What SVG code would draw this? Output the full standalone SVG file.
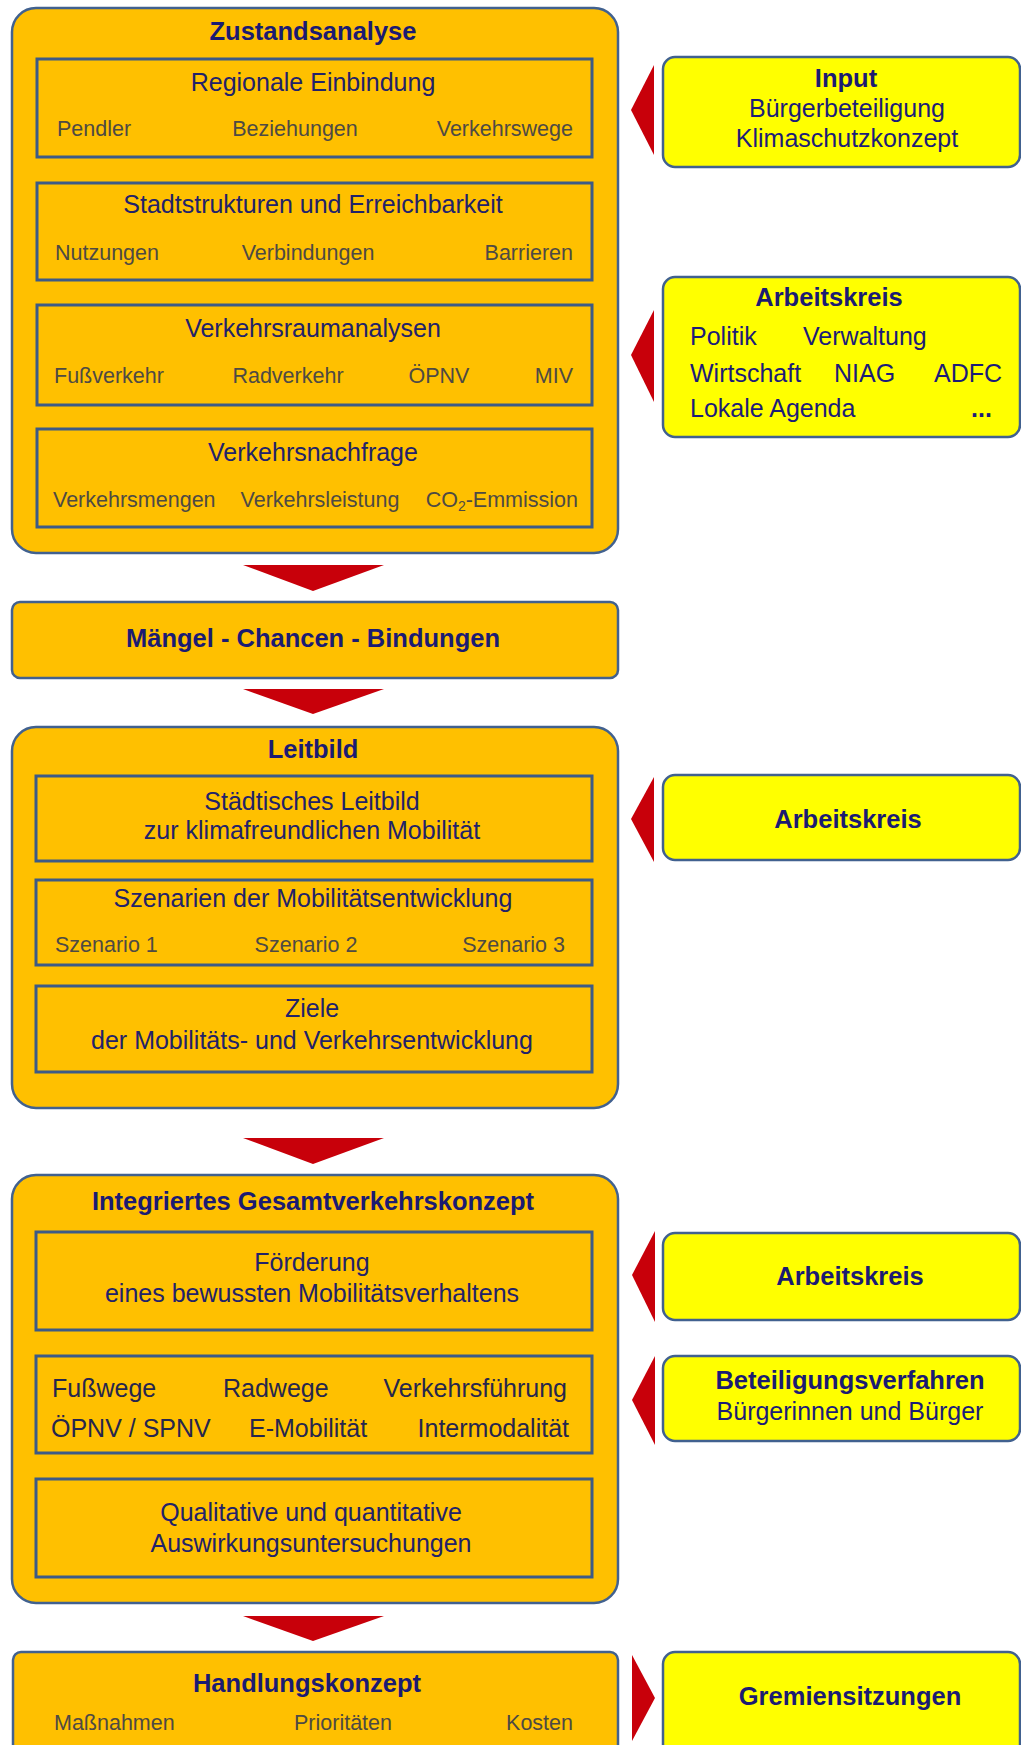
<svg xmlns="http://www.w3.org/2000/svg" width="1021" height="1745" viewBox="0 0 1021 1745">
<style>
  .outer{fill:#FFC000;stroke:#41618F;stroke-width:2.5}
  .inner{fill:none;stroke:#3D5A86;stroke-width:3}
  .side{fill:#FFFF00;stroke:#41618F;stroke-width:2.5}
  .arr{fill:#C8000A}
  text{font-family:"Liberation Sans",Arial,sans-serif}
  .t{font-size:25.5px;font-weight:bold;fill:#1B1B72;text-anchor:middle}
  .s{font-size:25px;fill:#22226A;text-anchor:middle}
  .i{font-size:21.5px;fill:#4E4A44}
  .m{font-size:25px;fill:#26264E}
  .r{font-size:25px;fill:#1C1C78}
  .c{text-anchor:middle}
  .e{text-anchor:end}
</style>
<rect width="1021" height="1745" fill="#FFFFFF"/>

<g id="zustandsanalyse">
  <rect class="outer" x="12" y="8" width="606" height="545" rx="24"/>
  <text class="t" x="313" y="40">Zustandsanalyse</text>
  <rect class="inner" x="37" y="59" width="555" height="98"/>
  <text class="s" x="313" y="91">Regionale Einbindung</text>
  <text class="i" x="57" y="136">Pendler</text>
  <text class="i c" x="295" y="136">Beziehungen</text>
  <text class="i e" x="573" y="136">Verkehrswege</text>
  <rect class="inner" x="37" y="183" width="555" height="97"/>
  <text class="s" x="313" y="213">Stadtstrukturen und Erreichbarkeit</text>
  <text class="i" x="55" y="260">Nutzungen</text>
  <text class="i c" x="308" y="260">Verbindungen</text>
  <text class="i e" x="573" y="260">Barrieren</text>
  <rect class="inner" x="37" y="305" width="555" height="100"/>
  <text class="s" x="313" y="337">Verkehrsraumanalysen</text>
  <text class="i" x="54" y="383">Fußverkehr</text>
  <text class="i c" x="288" y="383">Radverkehr</text>
  <text class="i c" x="439" y="383">ÖPNV</text>
  <text class="i e" x="573" y="383">MIV</text>
  <rect class="inner" x="37" y="429" width="555" height="98"/>
  <text class="s" x="313" y="461">Verkehrsnachfrage</text>
  <text class="i" x="53" y="507">Verkehrsmengen</text>
  <text class="i c" x="320" y="507">Verkehrsleistung</text>
  <text class="i e" x="578" y="507">CO<tspan font-size="14" dy="4">2</tspan><tspan dy="-4">-Emmission</tspan></text>
</g>

<g id="maengel">
  <rect class="outer" x="12" y="602" width="606" height="76" rx="8"/>
  <text class="t" x="313" y="647">Mängel - Chancen - Bindungen</text>
</g>

<g id="leitbild">
  <rect class="outer" x="12" y="727" width="606" height="381" rx="24"/>
  <text class="t" x="313" y="758">Leitbild</text>
  <rect class="inner" x="36" y="776" width="556" height="85"/>
  <text class="s" x="312" y="810">Städtisches Leitbild</text>
  <text class="s" x="312" y="839">zur klimafreundlichen  Mobilität</text>
  <rect class="inner" x="36" y="880" width="556" height="85"/>
  <text class="s" x="313" y="907">Szenarien der Mobilitätsentwicklung</text>
  <text class="i" x="55" y="952">Szenario 1</text>
  <text class="i c" x="306" y="952">Szenario 2</text>
  <text class="i e" x="565" y="952">Szenario 3</text>
  <rect class="inner" x="36" y="986" width="556" height="86"/>
  <text class="s" x="312" y="1017">Ziele</text>
  <text class="s" x="312" y="1049">der Mobilitäts- und Verkehrsentwicklung</text>
</g>

<g id="gesamtverkehrskonzept">
  <rect class="outer" x="12" y="1175" width="606" height="428" rx="24"/>
  <text class="t" x="313" y="1210">Integriertes Gesamtverkehrskonzept</text>
  <rect class="inner" x="36" y="1232" width="556" height="98"/>
  <text class="s" x="312" y="1271">Förderung</text>
  <text class="s" x="312" y="1302">eines bewussten  Mobilitätsverhaltens</text>
  <rect class="inner" x="36" y="1356" width="556" height="97"/>
  <text class="m" x="52" y="1397">Fußwege</text>
  <text class="m" x="223" y="1397">Radwege</text>
  <text class="m e" x="567" y="1397">Verkehrsführung</text>
  <text class="m" x="51" y="1437">ÖPNV / SPNV</text>
  <text class="m" x="249" y="1437">E-Mobilität</text>
  <text class="m e" x="569" y="1437">Intermodalität</text>
  <rect class="inner" x="36" y="1479" width="556" height="98"/>
  <text class="s" x="311" y="1521">Qualitative und quantitative</text>
  <text class="s" x="311" y="1552">Auswirkungsuntersuchungen</text>
</g>

<g id="handlungskonzept">
  <rect class="outer" x="13" y="1652" width="605" height="110" rx="8"/>
  <text class="t" x="307" y="1692">Handlungskonzept</text>
  <text class="i" x="54" y="1730">Maßnahmen</text>
  <text class="i c" x="343" y="1730">Prioritäten</text>
  <text class="i e" x="573" y="1730">Kosten</text>
</g>

<g id="input">
  <rect class="side" x="663" y="57" width="357" height="110" rx="12"/>
  <text class="t" x="846" y="87">Input</text>
  <text class="r c" x="847" y="117">Bürgerbeteiligung</text>
  <text class="r c" x="847" y="147">Klimaschutzkonzept</text>
</g>

<g id="arbeitskreis1">
  <rect class="side" x="663" y="277" width="357" height="160" rx="12"/>
  <text class="t" x="829" y="306">Arbeitskreis</text>
  <text class="r" x="690" y="345">Politik</text>
  <text class="r" x="803" y="345">Verwaltung</text>
  <text class="r" x="690" y="382">Wirtschaft</text>
  <text class="r" x="834" y="382">NIAG</text>
  <text class="r" x="934" y="382">ADFC</text>
  <text class="r" x="690" y="417">Lokale Agenda</text>
  <text class="r" x="971" y="417" font-weight="bold">...</text>
</g>

<g id="arbeitskreis2">
  <rect class="side" x="663" y="775" width="357" height="85" rx="12"/>
  <text class="t" x="848" y="828">Arbeitskreis</text>
</g>

<g id="arbeitskreis3">
  <rect class="side" x="663" y="1233" width="357" height="87" rx="12"/>
  <text class="t" x="850" y="1285">Arbeitskreis</text>
</g>

<g id="beteiligungsverfahren">
  <rect class="side" x="663" y="1356" width="357" height="85" rx="12"/>
  <text class="t" x="850" y="1389">Beteiligungsverfahren</text>
  <text class="r c" x="850" y="1420">Bürgerinnen und Bürger</text>
</g>

<g id="gremiensitzungen">
  <rect class="side" x="663" y="1652" width="357" height="110" rx="12"/>
  <text class="t" x="850" y="1705">Gremiensitzungen</text>
</g>

<g id="connectors">
  <polygon class="arr" points="243,565 384,565 313,591"/>
  <polygon class="arr" points="243,689 384,689 313,714"/>
  <polygon class="arr" points="243,1138 384,1138 313,1164"/>
  <polygon class="arr" points="243,1616 384,1616 313,1641"/>
  <polygon class="arr" points="654,65 654,155 631,110"/>
  <polygon class="arr" points="654,310 654,402 631,355"/>
  <polygon class="arr" points="654,777 654,862 631,819"/>
  <polygon class="arr" points="655,1231 655,1322 632,1275"/>
  <polygon class="arr" points="655,1356 655,1445 632,1400"/>
  <polygon class="arr" points="632,1655 632,1741 655,1698"/>
</g>
</svg>
